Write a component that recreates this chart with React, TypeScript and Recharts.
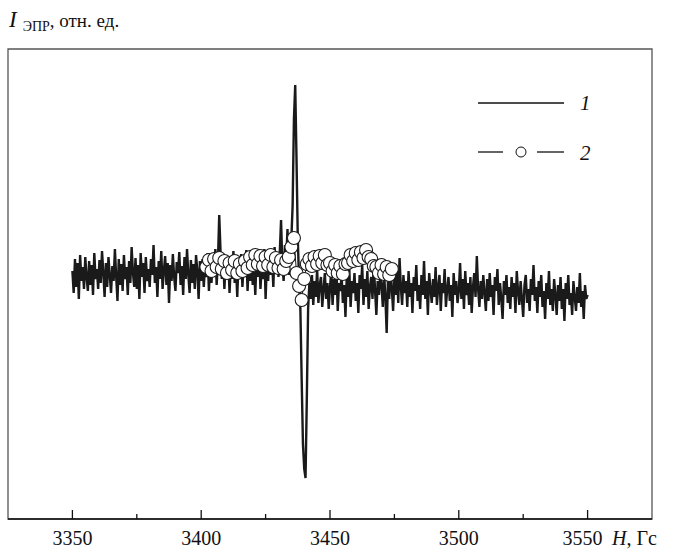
import React from 'react';
import { LineChart, Line, XAxis, YAxis, ReferenceArea } from 'recharts';

// spectrum 1: sampled every 0.5 G starting at 3350 G
const fieldStart = 3350;
const fieldStep = 0.5;
const line1Values = [
  -2, -24, 10, -18, 6, -30, 14, -12, 2, -20, 12, -8, -22, 8, -16, 4, -26, 16, -10, 0,
  -20, 9, -14, 18, -4, -28, 6, -18, 12, -6, -24, 3, -12, 20, -8, -32, 10, -16, 5, -22,
  14, -10, 2, -26, 8, -14, 22, -4, -18, 11, -20, 4, -30, 16, -8, 6, -24, 12, -12, 0,
  -18, 10, -6, 24, -14, 2, -28, 8, -10, 18, -20, -2, 13, -16, 6, -34, 4, -12, 15, -8,
  -22, 7, -4, 17, -16, 3, -26, 12, -10, 20, -6, -24, 9, -14, 5, -20, 14, -2, -30, 8,
  -12, 10, -18, 4, -8, 16, -22, 6, -14, 12, -4, 20, -16, 8, 54, 18, -10, 14, -20, 6,
  -6, 12, -24, 4, -10, 18, -14, 2, -28, 10, -8, 15, -18, 6, -4, 19, -22, 8, -12, 14,
  -16, 4, -26, 12, -8, 16, -20, 2, -10, 20, -30, 6, -12, 18, -6, 10, -18, 22, -4, 14,
  -8, 16, 49, 4, -12, 24, 8, 40, -6, 22, 30, 64, 150, 184, 110, 30, -12, -40, -110, -175,
  -200, -209, -130, -40, -14, -30, -6, -36, -12, -28, 0, -34, -16, -8, -38, -20, -4, -30, -14, -40,
  -18, -2, -36, -10, -26, 2, -42, -14, -22, -6, -34, -16, -48, -8, -28, 0, -38, -12, -24, -4,
  -32, -14, -44, -6, -20, 4, -36, -10, -28, -2, -40, -18, -8, -30, 6, -22, -46, -12, -26, -6,
  -16, -38, -4, -28, -64, -10, -30, 2, -20, -42, -8, -26, 0, -34, 11, -18, -36, -6, -24, -12,
  -38, -2, -28, -14, -44, -8, -22, 4, -32, -16, -40, -6, -26, 8, -30, -12, -46, -4, -20, -34,
  -10, -28, 2, -36, -18, -6, -42, -14, -24, 0, -38, -20, -8, -32, -16, -48, -4, -26, -12, -34,
  -22, 6, -30, -10, -40, -2, -26, -14, -36, -8, -44, -18, -4, -28, 13, -20, -38, -12, -30, -6,
  -24, -42, -10, -32, -4, -28, -16, -46, -8, -22, 0, -36, -14, -30, -50, -12, -26, -6, -34, -18,
  -40, -8, -28, -14, -44, -2, -22, -36, -12, -30, -48, -16, -6, -34, -20, -42, -10, -26, 4, -32,
  -18, -44, -12, -28, -6, -38, -22, -50, -14, -30, -2, -36, -20, -42, -10, -26, -46, -16, -32, -8,
  -40, -20, -52, -14, -30, -6, -36, -24, -46, -12, -28, -42, -18, -34, -4, -38, -22, -50, -16, -30,
  -26,
];

// spectrum 2: one point per gauss from 3402 G
const line2Start = 3402;
const line2Values = [
  2, 9, -2, 10, 2, 11, 0, 8, -4, 6,
  -1, 8, -4, 5, -2, 8, 1, 12, 4, 14,
  5, 13, 3, 12, 4, 14, 2, 11, 1, 9,
  0, 8, 12, 22, 31, -4, -17, -31, -10, 5,
  10, 3, 12, 5, 13, 6, 14, 4, 6, -2,
  4, -4, 3, -5, 5, 6, 14, 8, 16, 9,
  17, 11, 19, 12, 10, 3, 2, -4, 4, -5,
  2, -6, 0,
];

const xTicks = [3350, 3375, 3400, 3425, 3450, 3475, 3500, 3525, 3550];
const xDomain = [3325, 3575];
const yDomain = [-250, 220];

const line1 = line1Values.map((v, i) => ({ h: fieldStart + i * fieldStep, v }));
const line2 = line2Values.map((v, i) => ({ h: line2Start + i, v }));

const W = 674;
const H = 550;
const AXIS_Y = 519;
const serif = 'Liberation Serif, Times New Roman, serif';
const serifStyle = { fontFamily: serif };

const AxisTick = (props: any) => {
  const { x, payload } = props;
  const val = payload.value;
  const major = val % 50 === 0;
  return (
    <g>
      <line x1={x} x2={x} y1={AXIS_Y} y2={AXIS_Y - (major ? 9 : 5)} stroke="#111" strokeWidth={1.3} />
      {major && (
        <text
          x={val === 3550 ? x - 5 : x}
          y={545}
          textAnchor="middle"
          style={serifStyle}
          fontSize={20}
          fill="#111"
        >
          {val}
        </text>
      )}
    </g>
  );
};

export default function App() {
  return (
    <div style={{ position: 'absolute', left: 0, top: 0, width: W, height: H, background: '#fff' }}>
      <LineChart width={W} height={H} margin={{ top: 49, right: 22, bottom: 0, left: 8 }}>
        <XAxis
          type="number"
          dataKey="h"
          domain={xDomain}
          ticks={xTicks}
          interval={0}
          allowDataOverflow
          height={31}
          tickLine={false}
          axisLine={{ stroke: '#111', strokeWidth: 1.4 }}
          tick={<AxisTick />}
        />
        <YAxis type="number" dataKey="v" domain={yDomain} allowDataOverflow hide />
        <ReferenceArea
          x1={xDomain[0]}
          x2={xDomain[1]}
          y1={yDomain[0]}
          y2={yDomain[1]}
          fill="none"
          stroke="#555"
          strokeWidth={1.3}
          ifOverflow="visible"
        />
        <Line
          data={line1}
          dataKey="v"
          type="linear"
          stroke="#1a1a1a"
          strokeWidth={2.4}
          dot={false}
          isAnimationActive={false}
        />
        <Line
          data={line2}
          dataKey="v"
          type="linear"
          stroke="#1a1a1a"
          strokeWidth={1}
          dot={{ r: 6.5, fill: '#fff', stroke: '#1a1a1a', strokeWidth: 1.1 }}
          isAnimationActive={false}
        />
      </LineChart>
      <svg
        width={W}
        height={H}
        style={{ position: 'absolute', left: 0, top: 0, pointerEvents: 'none' }}
      >
        <text x={9} y={27} style={serifStyle} fill="#111">
          <tspan fontSize={23} fontStyle="italic">I</tspan>
          <tspan fontSize={14} dx={6} dy={4}>ЭПР</tspan>
          <tspan fontSize={19} dy={-4}>, отн. ед.</tspan>
        </text>
        <line x1={478} x2={564} y1={103} y2={103} stroke="#111" strokeWidth={1.6} />
        <text x={580} y={110} style={serifStyle} fontSize={21} fontStyle="italic" fill="#111">1</text>
        <line x1={478} x2={503} y1={152} y2={152} stroke="#111" strokeWidth={1.3} />
        <line x1={537} x2={564} y1={152} y2={152} stroke="#111" strokeWidth={1.3} />
        <circle cx={521} cy={152} r={5} fill="#fff" stroke="#111" strokeWidth={1} />
        <text x={580} y={160} style={serifStyle} fontSize={21} fontStyle="italic" fill="#111">2</text>
        <text x={612} y={545} style={serifStyle} fontSize={20} fill="#111">
          <tspan fontStyle="italic">H</tspan>
          <tspan>, Гс</tspan>
        </text>
      </svg>
    </div>
  );
}
